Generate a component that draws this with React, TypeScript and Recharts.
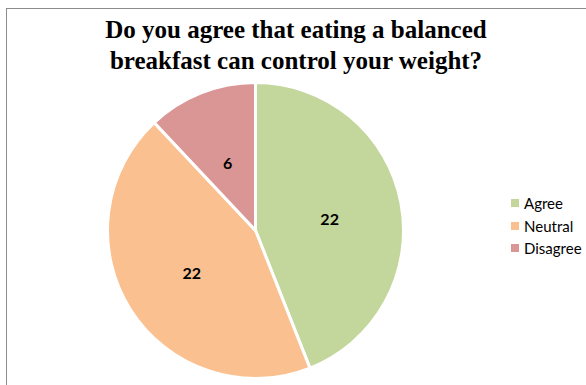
import React from "react";
import { PieChart, Pie, Cell, Legend } from "recharts";

const categories = ["Agree", "Neutral", "Disagree"];
const values = [22, 22, 6];
const colors = ["#C3D69B", "#FAC090", "#D99694"];
const titleLines = ["Do you agree that eating a balanced", "breakfast can control your weight?"];

const data = categories.map((name, i) => ({ name, value: values[i] }));

const RAD = Math.PI / 180;

const renderLabel = (props: any) => {
  const { cx, cy, midAngle, outerRadius, value } = props;
  const r = outerRadius * 0.51;
  const x = cx + r * Math.cos(-midAngle * RAD);
  const y = cy + r * Math.sin(-midAngle * RAD);
  return (
    <text
      x={x}
      y={y + 2}
      textAnchor="middle"
      dominantBaseline="central"
      fontFamily="Lato"
      fontWeight="bold"
      fontSize={16}
      fill="#000"
    >
      {value}
    </text>
  );
};

const renderLegend = (props: any) => {
  const payload = [...(props.payload || [])].sort(
    (a: any, b: any) => categories.indexOf(a.value) - categories.indexOf(b.value)
  );
  return (
    <div style={{ fontFamily: "Lato", fontSize: 15, color: "#000" }}>
      {payload.map((entry: any, i: number) => (
        <div key={i} style={{ display: "flex", alignItems: "center", height: 22.5 }}>
          <span
            style={{
              display: "inline-block",
              width: 8,
              height: 8,
              background: entry.color,
              marginRight: 5,
            }}
          />
          <span>{entry.value}</span>
        </div>
      ))}
    </div>
  );
};

export default function App() {
  return (
    <div style={{ position: "absolute", left: 0, top: 0, width: 586, height: 385, background: "#fff" }}>
      <div
        style={{
          position: "absolute",
          left: 6,
          top: 8,
          width: 580,
          height: 377,
          borderTop: "1px solid #8c8c8c",
          borderLeft: "1px solid #8c8c8c",
          boxSizing: "border-box",
        }}
      />
      <div style={{ position: "absolute", left: 0, top: 0 }}>
        <PieChart width={586} height={385}>
          <Pie
            data={data}
            dataKey="value"
            nameKey="name"
            cx={250.5}
            cy={225.5}
            outerRadius={148}
            startAngle={90}
            endAngle={-270}
            stroke="#fff"
            strokeWidth={3}
            label={renderLabel}
            labelLine={false}
            isAnimationActive={false}
          >
            {data.map((d, i) => (
              <Cell key={d.name} fill={colors[i]} />
            ))}
          </Pie>
          <Legend
            layout="vertical"
            content={renderLegend}
            wrapperStyle={{ position: "absolute", left: 511, top: 192, width: 80 }}
          />
        </PieChart>
      </div>
      <svg width={586} height={80} style={{ position: "absolute", left: 0, top: 0 }}>
        {titleLines.map((l, i) => (
          <text
            key={i}
            x={296}
            y={38 + i * 31}
            textAnchor="middle"
            fontFamily="Liberation Serif"
            fontWeight="bold"
            fontSize={25}
            fill="#000"
          >
            {l}
          </text>
        ))}
      </svg>
    </div>
  );
}
